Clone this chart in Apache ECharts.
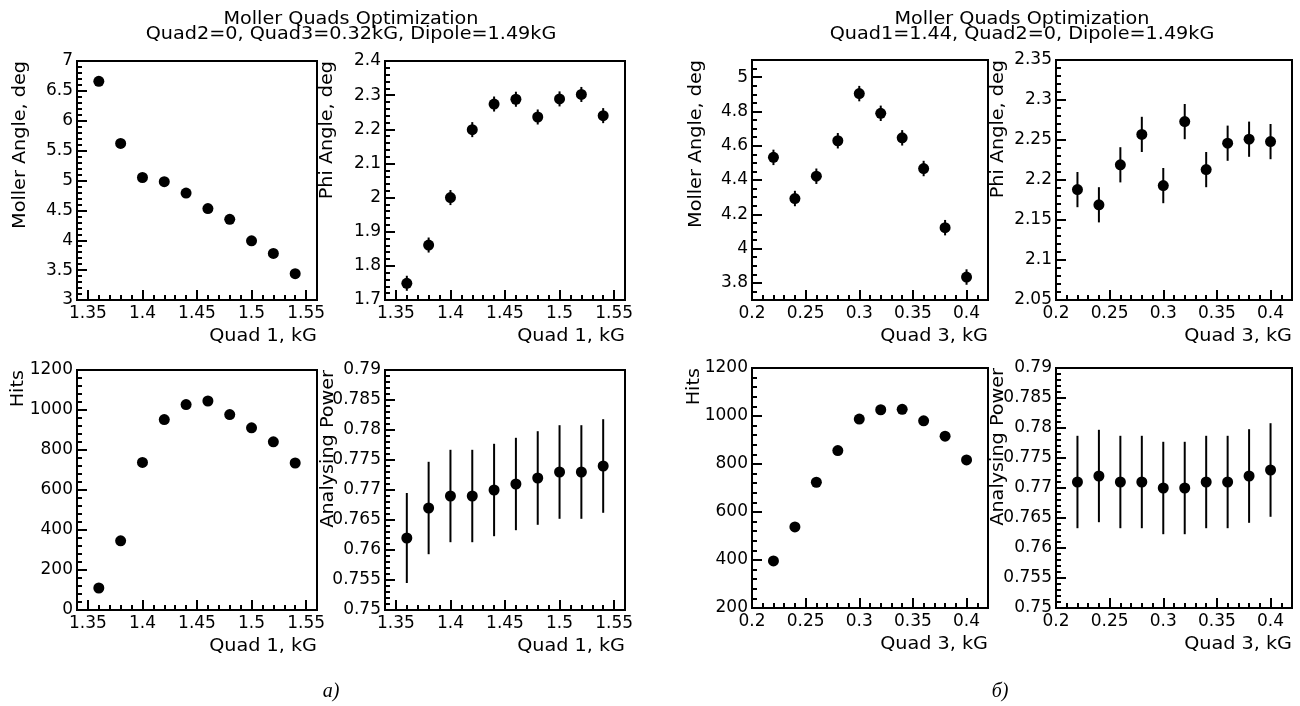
<!DOCTYPE html>
<html>
<head>
<meta charset="utf-8">
<script src="https://cdn.jsdelivr.net/npm/echarts@6/dist/echarts.min.js"></script>
<style>html,body{margin:0;padding:0;background:#fff}#chart{width:1300px;height:706px}</style>
</head>
<body>
<div id="chart"></div>
<script>
// ---------------- data ----------------
const quad1 = [1.36, 1.38, 1.40, 1.42, 1.44, 1.46, 1.48, 1.50, 1.52, 1.54];
const quad3 = [0.22, 0.24, 0.26, 0.28, 0.30, 0.32, 0.34, 0.36, 0.38, 0.40];

const mollerQ1 = [6.66, 5.62, 5.05, 4.98, 4.79, 4.53, 4.35, 3.99, 3.78, 3.44];
const phiQ1    = [1.749, 1.861, 2.000, 2.199, 2.274, 2.288, 2.236, 2.289, 2.302, 2.240];
const phiQ1Err = [0.022, 0.022, 0.022, 0.022, 0.022, 0.022, 0.022, 0.022, 0.022, 0.022];
const hitsQ1   = [110, 346, 738, 952, 1027, 1045, 977, 911, 841, 735];
const apQ1     = [0.762, 0.767, 0.769, 0.769, 0.770, 0.771, 0.772, 0.773, 0.773, 0.774];
const apQ1Err  = [0.0075, 0.0077, 0.0077, 0.0077, 0.0077, 0.0077, 0.0078, 0.0078, 0.0078, 0.0078];

const mollerQ3    = [4.532, 4.292, 4.422, 4.629, 4.904, 4.789, 4.646, 4.467, 4.122, 3.834];
const mollerQ3Err = [0.045, 0.045, 0.045, 0.045, 0.045, 0.045, 0.045, 0.045, 0.045, 0.045];
const phiQ3       = [2.188, 2.169, 2.219, 2.257, 2.193, 2.273, 2.213, 2.246, 2.251, 2.248];
const phiQ3Err    = [0.022, 0.022, 0.022, 0.022, 0.022, 0.022, 0.022, 0.022, 0.022, 0.022];
const hitsQ3      = [396, 538, 724, 856, 987, 1026, 1028, 980, 916, 817];
const apQ3        = [0.771, 0.772, 0.771, 0.771, 0.770, 0.770, 0.771, 0.771, 0.772, 0.773];
const apQ3Err     = [0.0077, 0.0077, 0.0077, 0.0077, 0.0077, 0.0077, 0.0077, 0.0077, 0.0078, 0.0078];

// tick labels
const q1Ticks       = [1.35, 1.4, 1.45, 1.5, 1.55];
const q3Ticks       = [0.2, 0.25, 0.3, 0.35, 0.4];
const mollerQ1Ticks = [3, 3.5, 4, 4.5, 5, 5.5, 6, 6.5, 7];
const phiQ1Ticks    = [1.7, 1.8, 1.9, 2, 2.1, 2.2, 2.3, 2.4];
const hitsQ1Ticks   = [0, 200, 400, 600, 800, 1000, 1200];
const apTicks       = [0.75, 0.755, 0.76, 0.765, 0.77, 0.775, 0.78, 0.785, 0.79];
const mollerQ3Ticks = [3.8, 4, 4.2, 4.4, 4.6, 4.8, 5];
const phiQ3Ticks    = [2.05, 2.1, 2.15, 2.2, 2.25, 2.3, 2.35];
const hitsQ3Ticks   = [200, 400, 600, 800, 1000, 1200];

// texts
const groupTitle = 'Moller Quads Optimization';
const subTitleA = 'Quad2=0, Quad3=0.32kG, Dipole=1.49kG';
const subTitleB = 'Quad1=1.44, Quad2=0, Dipole=1.49kG';
const xTitleA = 'Quad 1, kG';
const xTitleB = 'Quad 3, kG';
const yTitles = ['Moller Angle, deg', 'Phi Angle, deg', 'Hits', 'Analysing Power'];
const captions = ['а)', 'б)'];

// ---------------- layout ----------------
const FONT = 'DejaVu Sans';
const FS = 17;
const SX = 1.13;

function steps(min, max, step) {
  const out = [];
  const n = Math.round((max - min) / step);
  for (let i = 0; i <= n; i++) out.push(Math.round((min + i * step) * 1e6) / 1e6);
  return out;
}

const panels = [
  { grid: {left: 77, top: 61, width: 240, height: 239}, xr: [1.34, 1.56], xt: q1Ticks, xm: 0.01,
    yr: [3, 7], yt: mollerQ1Ticks, ym: 0.1, xs: quad1, ys: mollerQ1, err: null,
    yTitle: yTitles[0], yTitleX: 21, xTitle: xTitleA },
  { grid: {left: 385, top: 61, width: 240, height: 239}, xr: [1.34, 1.56], xt: q1Ticks, xm: 0.01,
    yr: [1.7, 2.4], yt: phiQ1Ticks, ym: 0.02, xs: quad1, ys: phiQ1, err: phiQ1Err,
    yTitle: yTitles[1], yTitleX: 328, xTitle: xTitleA },
  { grid: {left: 77, top: 370, width: 240, height: 240}, xr: [1.34, 1.56], xt: q1Ticks, xm: 0.01,
    yr: [0, 1200], yt: hitsQ1Ticks, ym: 40, xs: quad1, ys: hitsQ1, err: null,
    yTitle: yTitles[2], yTitleX: 19, xTitle: xTitleA },
  { grid: {left: 385, top: 370, width: 240, height: 240}, xr: [1.34, 1.56], xt: q1Ticks, xm: 0.01,
    yr: [0.75, 0.79], yt: apTicks, ym: 0.001, xs: quad1, ys: apQ1, err: apQ1Err,
    yTitle: yTitles[3], yTitleX: 329, xTitle: xTitleA },
  { grid: {left: 752, top: 60, width: 236, height: 240}, xr: [0.2, 0.42], xt: q3Ticks, xm: 0.01,
    yr: [3.7, 5.1], yt: mollerQ3Ticks, ym: 0.05, xs: quad3, ys: mollerQ3, err: mollerQ3Err,
    yTitle: yTitles[0], yTitleX: 697, xTitle: xTitleB },
  { grid: {left: 1056, top: 60, width: 236, height: 240}, xr: [0.2, 0.42], xt: q3Ticks, xm: 0.01,
    yr: [2.05, 2.35], yt: phiQ3Ticks, ym: 0.01, xs: quad3, ys: phiQ3, err: phiQ3Err,
    yTitle: yTitles[1], yTitleX: 999, xTitle: xTitleB },
  { grid: {left: 752, top: 368, width: 236, height: 240}, xr: [0.2, 0.42], xt: q3Ticks, xm: 0.01,
    yr: [200, 1200], yt: hitsQ3Ticks, ym: 40, xs: quad3, ys: hitsQ3, err: null,
    yTitle: yTitles[2], yTitleX: 695, xTitle: xTitleB },
  { grid: {left: 1056, top: 368, width: 236, height: 240}, xr: [0.2, 0.42], xt: q3Ticks, xm: 0.01,
    yr: [0.75, 0.79], yt: apTicks, ym: 0.001, xs: quad3, ys: apQ3, err: apQ3Err,
    yTitle: yTitles[3], yTitleX: 999, xTitle: xTitleB }
];

const grids = [], xAxes = [], yAxes = [], series = [], graphics = [];
const labelStyle = { color: '#000', fontFamily: FONT, fontSize: FS };

panels.forEach((p, i) => {
  grids.push(Object.assign({ show: true, borderColor: '#000', borderWidth: 2, backgroundColor: 'transparent',
    outerBoundsMode: 'none', containLabel: false }, p.grid));
  const xMinor = steps(p.xr[0], p.xr[1], p.xm).filter(v => !p.xt.some(t => Math.abs(t - v) < 1e-9));
  const yMinor = steps(p.yr[0], p.yr[1], p.ym).filter(v => !p.yt.some(t => Math.abs(t - v) < 1e-9));
  xAxes.push({ type: 'value', gridIndex: i, position: 'bottom', min: p.xr[0], max: p.xr[1],
    axisLine: { show: true, onZero: false, lineStyle: { color: '#000', width: 2 } },
    axisTick: { show: true, inside: true, length: 10, customValues: p.xt, lineStyle: { color: '#000', width: 2 } },
    axisLabel: Object.assign({ show: true, margin: 5, customValues: p.xt, formatter: v => String(v) }, labelStyle),
    splitLine: { show: false } });
  xAxes.push({ type: 'value', gridIndex: i, position: 'bottom', min: p.xr[0], max: p.xr[1],
    axisLine: { show: false },
    axisTick: { show: true, inside: true, length: 5, customValues: xMinor, lineStyle: { color: '#000', width: 2 } },
    axisLabel: { show: false }, splitLine: { show: false } });
  yAxes.push({ type: 'value', gridIndex: i, position: 'left', min: p.yr[0], max: p.yr[1],
    axisLine: { show: true, onZero: false, lineStyle: { color: '#000', width: 2 } },
    axisTick: { show: true, inside: true, length: 10, customValues: p.yt, lineStyle: { color: '#000', width: 2 } },
    axisLabel: Object.assign({ show: true, margin: 4, customValues: p.yt, formatter: v => String(v) }, labelStyle),
    splitLine: { show: false } });
  yAxes.push({ type: 'value', gridIndex: i, position: 'left', min: p.yr[0], max: p.yr[1],
    axisLine: { show: false },
    axisTick: { show: true, inside: true, length: 5, customValues: yMinor, lineStyle: { color: '#000', width: 2 } },
    axisLabel: { show: false }, splitLine: { show: false } });

  const pts = p.xs.map((x, k) => [x, p.ys[k]]);
  if (p.err) {
    series.push({ type: 'custom', xAxisIndex: 2 * i, yAxisIndex: 2 * i, silent: true, animation: false,
      data: p.xs.map((x, k) => [x, p.ys[k], p.err[k]]),
      renderItem: (params, api) => {
        const x = api.value(0), y = api.value(1), e = api.value(2);
        const a = api.coord([x, y - e]), b = api.coord([x, y + e]);
        return { type: 'line', shape: { x1: a[0], y1: a[1], x2: b[0], y2: b[1] },
          style: { stroke: '#000', lineWidth: 2, opacity: 1 } };
      } });
  }
  series.push({ type: 'scatter', xAxisIndex: 2 * i, yAxisIndex: 2 * i, data: pts, symbol: 'circle',
    symbolSize: 11, itemStyle: { color: '#000', opacity: 1, borderWidth: 0 }, silent: true, animation: false });

  const g = p.grid;
  graphics.push({ type: 'text', x: p.yTitleX, y: g.top, rotation: Math.PI / 2, scaleX: SX,
    style: { text: p.yTitle, font: FS + 'px "' + FONT + '"', fill: '#000', align: 'right', verticalAlign: 'middle' } });
  graphics.push({ type: 'text', x: g.left + g.width, y: g.top + g.height + 37, scaleX: SX,
    style: { text: p.xTitle, font: FS + 'px "' + FONT + '"', fill: '#000', align: 'right', verticalAlign: 'middle' } });
});

[[351, subTitleA], [1022, subTitleB]].forEach(([cx, sub]) => {
  graphics.push({ type: 'text', x: cx, y: 20, scaleX: SX,
    style: { text: groupTitle, font: FS + 'px "' + FONT + '"', fill: '#000', align: 'center', verticalAlign: 'middle' } });
  graphics.push({ type: 'text', x: cx, y: 35, scaleX: SX,
    style: { text: sub, font: FS + 'px "' + FONT + '"', fill: '#000', align: 'center', verticalAlign: 'middle' } });
});
[[331, captions[0]], [1000, captions[1]]].forEach(([cx, t]) => {
  graphics.push({ type: 'text', x: cx, y: 692,
    style: { text: t, font: 'italic 20px "Liberation Serif"', fill: '#000', align: 'center', verticalAlign: 'middle' } });
});

const chart = echarts.init(document.getElementById('chart'), null, { renderer: 'canvas' });
chart.setOption({
  animation: false,
  backgroundColor: '#fff',
  grid: grids,
  xAxis: xAxes,
  yAxis: yAxes,
  series: series,
  graphic: graphics
});
</script>
</body>
</html>
